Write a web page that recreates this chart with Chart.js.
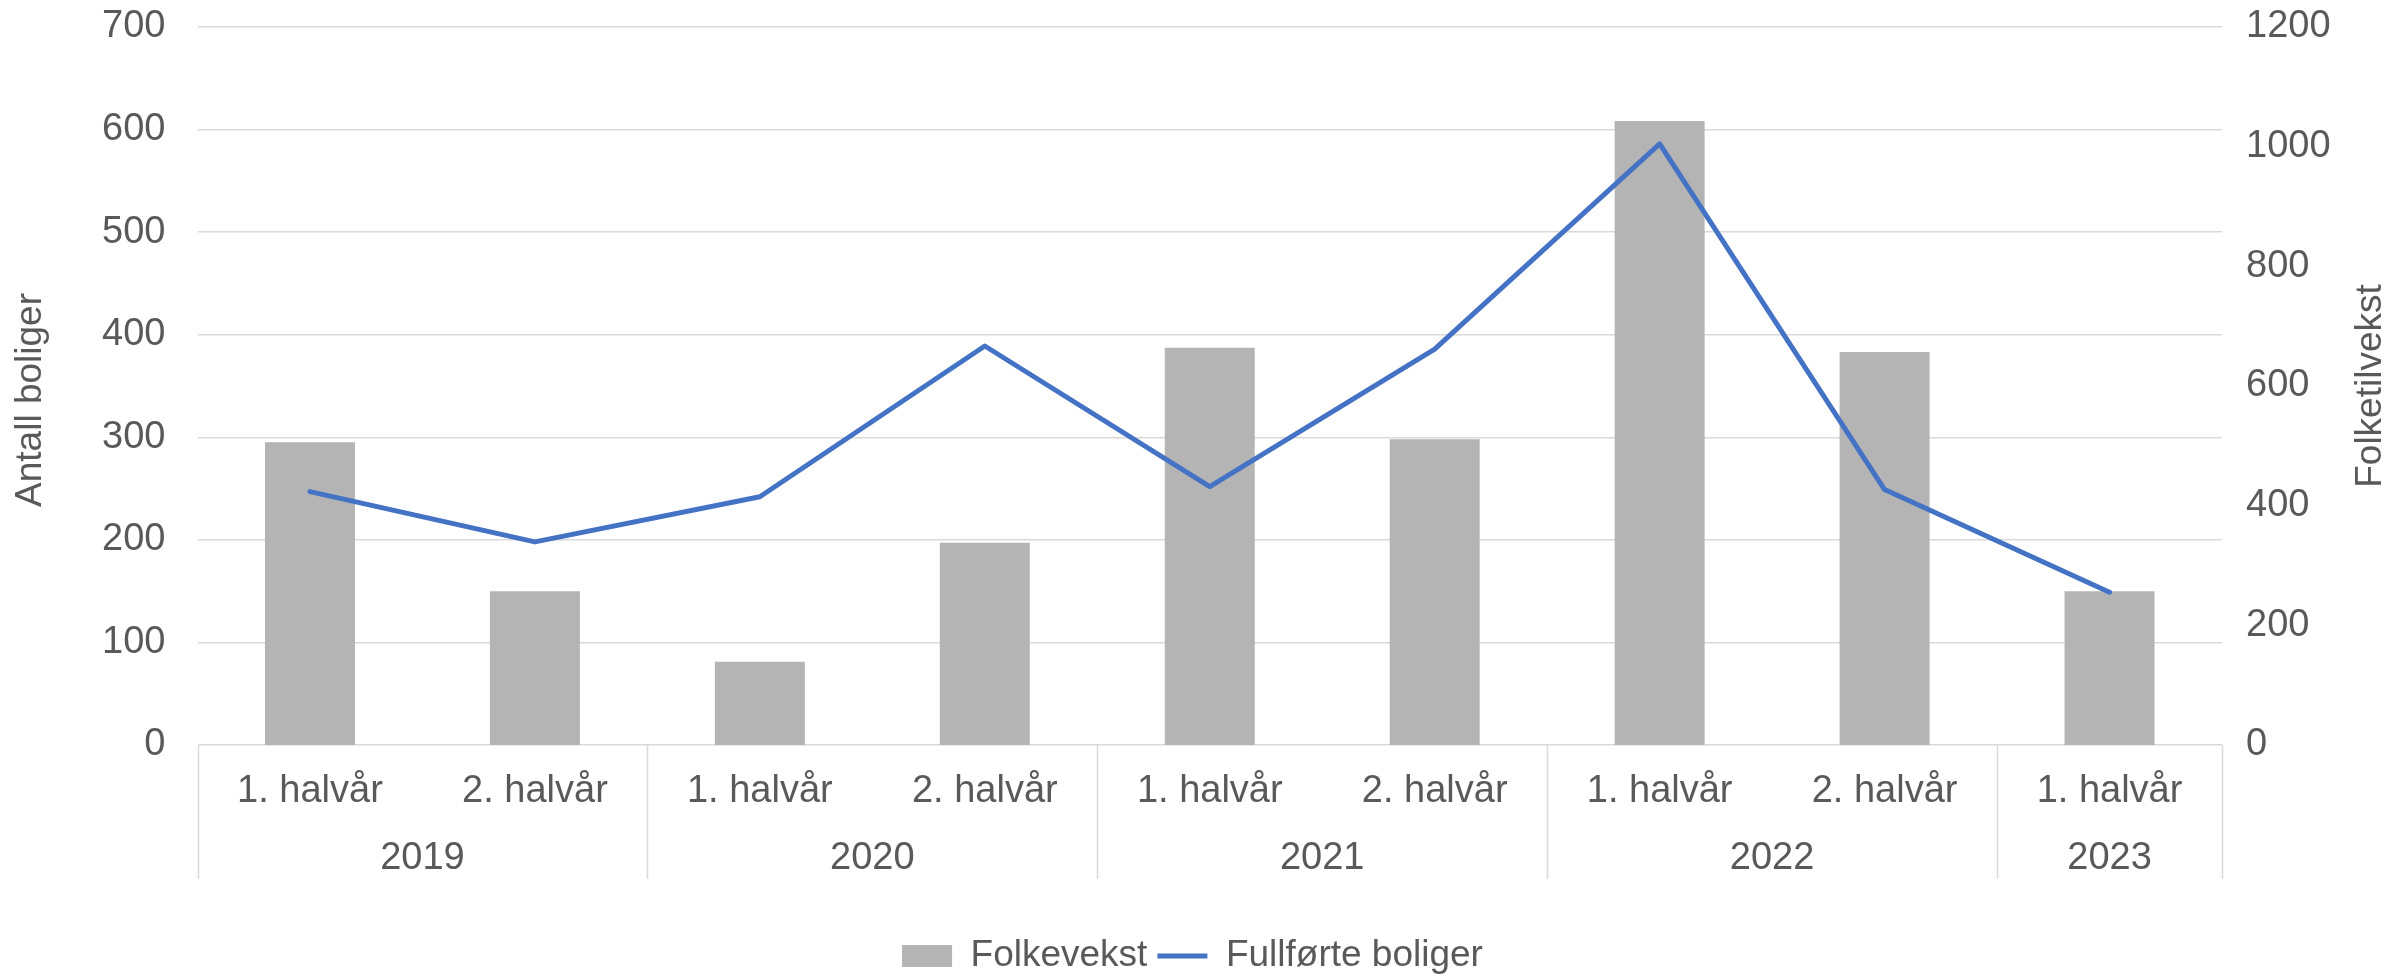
<!DOCTYPE html>
<html>
<head>
<meta charset="utf-8">
<script src="https://cdn.jsdelivr.net/npm/chart.js@4.4.0/dist/chart.umd.min.js"></script>
<style>
  body { margin: 0; background: #fff; }
  #wrap { width: 2385px; height: 977px; }
</style>
</head>
<body>
<div id="wrap"><canvas id="myChart"></canvas></div>
<script>
// categories: half year + the year it belongs to
var halfYears = ['1. halvår', '2. halvår', '1. halvår', '2. halvår', '1. halvår', '2. halvår', '1. halvår', '2. halvår', '1. halvår'];
var yearOfHalf = ['2019', '2019', '2020', '2020', '2021', '2021', '2022', '2022', '2023'];

// series values
var folkevekst = [506, 257, 139, 338, 664, 511, 1043, 657, 257];
var fullforteBoliger = [247, 198, 242, 389, 252, 386, 586, 249, 149];

var textColor = '#595959';
var gridColor = '#D9D9D9';
var fontFamily = "'Liberation Sans', Arial, sans-serif";

Chart.defaults.font.family = fontFamily;
Chart.defaults.font.size = 38;
Chart.defaults.color = textColor;

//group the half years into years for the second label row
var yearGroups = [];
yearOfHalf.forEach(function(y, i){
  var last = yearGroups[yearGroups.length - 1];
  if(last && last.name === y){
    last.last = i;
  }
  else{
    yearGroups.push({name: y, first: i, last: i});
  }
});
yearGroups.forEach(function(g){
  g.center = (g.first + g.last) / 2;
});

//vertical divider lines between years + both axis titles
var yearDividers = {
  id: 'yearDividers',
  afterDraw: function(chart){
    var ctx = chart.ctx;
    var area = chart.chartArea;
    var x2 = chart.scales.x2;
    var midY = (area.top + area.bottom) / 2;
    ctx.save();
    ctx.strokeStyle = gridColor;
    ctx.lineWidth = 1.5;
    var bounds = [yearGroups[0].first - 0.5];
    yearGroups.forEach(function(g){ bounds.push(g.last + 0.5); });
    bounds.forEach(function(b){
      var px = Math.round(x2.getPixelForValue(b)) + 0.5;
      ctx.beginPath();
      ctx.moveTo(px, area.bottom);
      ctx.lineTo(px, area.bottom + 134);
      ctx.stroke();
    });

    ctx.fillStyle = textColor;
    ctx.font = '37px ' + fontFamily;
    ctx.textAlign = 'center';
    ctx.textBaseline = 'alphabetic';

    ctx.save();
    ctx.translate(area.left - 157, midY + 14);
    ctx.rotate(-Math.PI / 2);
    ctx.fillText('Antall boliger', 0, 0);
    ctx.restore();

    ctx.translate(area.right + 159, midY);
    ctx.rotate(-Math.PI / 2);
    ctx.fillText('Folketilvekst', 0, 0);
    ctx.restore();
  }
};

var ctx = document.getElementById('myChart');

var chart = new Chart(ctx, {
  type: 'bar',
  data: {
    labels: halfYears,
    datasets: [{
      label: 'Folkevekst',
      data: folkevekst,
      backgroundColor: '#B4B4B4',
      borderWidth: 0,
      yAxisID: 'y1',
      order: 1,
      categoryPercentage: 0.8,
      barPercentage: 0.5
    },
    {
      type: 'line',
      label: 'Fullførte boliger',
      data: fullforteBoliger,
      borderColor: '#4472C4',
      backgroundColor: '#4472C4',
      borderWidth: 5,
      borderJoinStyle: 'round',
      borderCapStyle: 'round',
      pointRadius: 0,
      tension: 0,
      yAxisID: 'y',
      order: 0
    }]
  },
  options: {
    responsive: true,
    maintainAspectRatio: false,
    animation: false,
    layout: {
      padding: {top: 27, bottom: -7.5, left: 0, right: 0}
    },
    plugins: {
      tooltip: {enabled: false},
      legend: {
        position: 'bottom',
        labels: {
          usePointStyle: true,
          pointStyleWidth: 50,
          boxHeight: 22,
          padding: 10,
          color: textColor,
          font: {size: 37},
          generateLabels: function(chart){
            var items = Chart.defaults.plugins.legend.labels.generateLabels(chart);
            items.sort(function(a, b){ return a.datasetIndex - b.datasetIndex; });
            items.forEach(function(item){
              if(item.datasetIndex === 0){
                item.pointStyle = 'rect';
                item.lineWidth = 0;
              }
              else{
                item.pointStyle = 'line';
                item.strokeStyle = '#4472C4';
                item.lineWidth = 5;
              }
            });
            return items;
          }
        }
      }
    },
    scales: {
      x: {
        type: 'category',
        position: 'bottom',
        grid: {display: false, drawTicks: false},
        border: {display: false},
        ticks: {padding: 24, maxRotation: 0, autoSkip: false},
        afterFit: function(s){ s.height = 80; }
      },
      x2: {
        type: 'linear',
        position: 'bottom',
        min: -0.5,
        max: 8.5,
        offset: false,
        bounds: 'data',
        grid: {display: false, drawTicks: false, offset: false},
        border: {display: false},
        ticks: {
          padding: 11,
          maxRotation: 0,
          autoSkip: false,
          callback: function(value, index){
            return yearGroups[index] ? yearGroups[index].name : '';
          }
        },
        afterBuildTicks: function(s){
          s.ticks = yearGroups.map(function(g){ return {value: g.center}; });
        },
        afterFit: function(s){ s.height = 102.5; }
      },
      y: {
        position: 'left',
        min: 0,
        max: 700,
        ticks: {stepSize: 100, padding: 32},
        grid: {color: gridColor, lineWidth: 1.5, drawTicks: false},
        border: {display: false},
        afterFit: function(s){
          s.width = 197.5;
          s.paddingTop = 0;
          s.paddingBottom = 0;
        }
      },
      y1: {
        position: 'right',
        min: 0,
        max: 1200,
        ticks: {
          stepSize: 200,
          padding: 24,
          callback: function(value){ return String(value); }
        },
        grid: {display: false, drawTicks: false},
        border: {display: false},
        afterFit: function(s){
          s.width = 163;
          s.paddingTop = 0;
          s.paddingBottom = 0;
        }
      }
    }
  },
  plugins: [yearDividers]
});
</script>
</body>
</html>
